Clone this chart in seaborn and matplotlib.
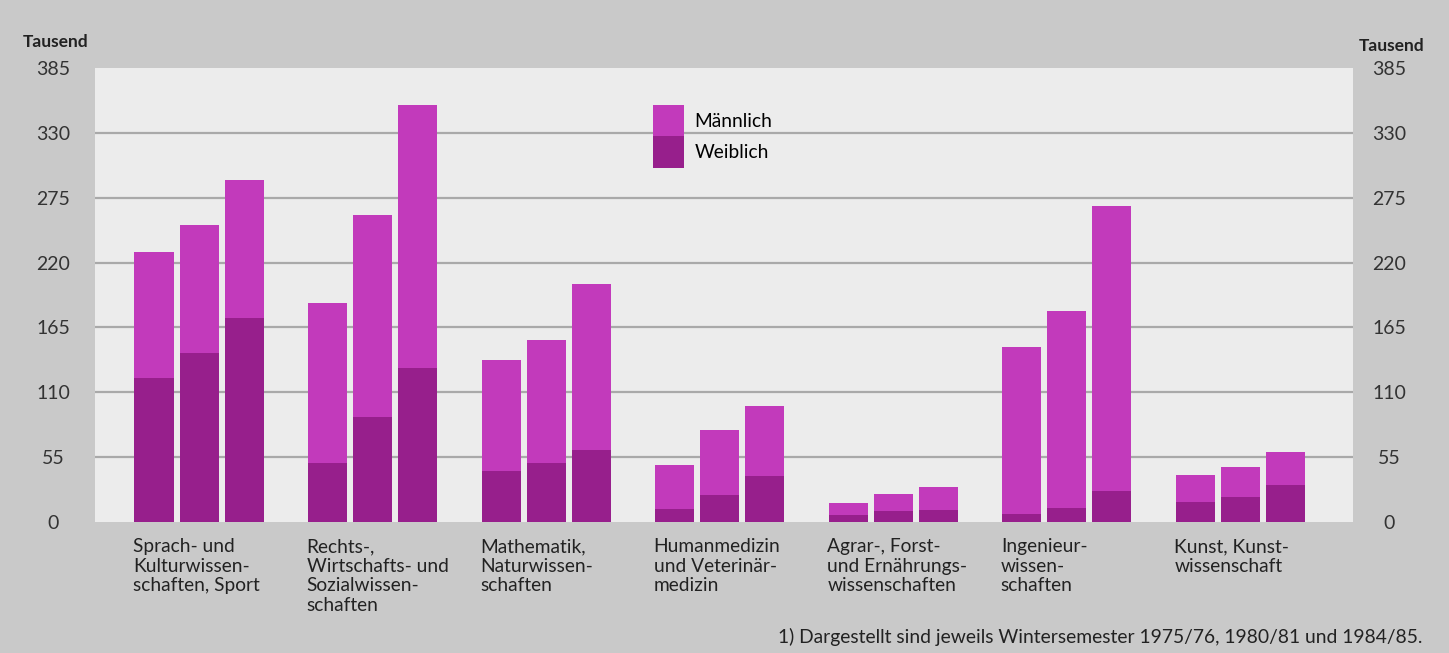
import pandas as pd
import matplotlib.pyplot as plt
import seaborn as sns
from matplotlib.patches import Patch

# Studierende nach Fächergruppen, Tausend
categories = ['Sprach- und\nKulturwissen-\nschaften, Sport',
              'Rechts-,\nWirtschafts- und\nSozialwissen-\nschaften',
              'Mathematik,\nNaturwissen-\nschaften',
              'Humanmedizin\nund Veterinär-\nmedizin',
              'Agrar-, Forst-\nund Ernährungs-\nwissenschaften',
              'Ingenieur-\nwissen-\nschaften',
              'Kunst, Kunst-\nwissenschaft']
years = ['1975/76', '1980/81', '1984/85']
total_1975 = [229, 186, 137, 48, 16, 148, 40]
total_1980 = [252, 260, 154, 78, 24, 179, 47]
total_1984 = [290, 354, 202, 98, 30, 268, 59]
weibl_1975 = [122, 50, 43, 11, 6, 7, 17]
weibl_1980 = [143, 89, 50, 23, 9, 12, 21]
weibl_1984 = [173, 131, 61, 39, 10, 26, 31]
yticks = [0, 55, 110, 165, 220, 275, 330, 385]

c_m = '#c23abb'
c_w = '#971f8c'
bg_out = '#c9c9c9'
bg_in = '#ececec'

rows = []
for yr, tot, wei in zip(years, [total_1975, total_1980, total_1984],
                        [weibl_1975, weibl_1980, weibl_1984]):
    for c, t, w in zip(categories, tot, wei):
        rows.append({'Fach': c, 'Jahr': yr, 'Gesamt': t, 'Weiblich': w})
df = pd.DataFrame(rows)

plt.rcParams['font.family'] = ['Lato', 'DejaVu Sans']

fig = plt.figure(figsize=(14.49, 6.53), dpi=100)
fig.patch.set_facecolor(bg_out)
ax = fig.add_axes([95 / 1449, (653 - 522) / 653, (1353 - 95) / 1449, (522 - 68) / 653])
ax.set_facecolor(bg_in)

for t in yticks[1:-1]:
    ax.axhline(t, color='#a9a9a9', lw=1.6, zorder=0)

sns.barplot(data=df, x='Fach', y='Gesamt', hue='Jahr', palette=[c_m] * 3,
            width=0.78, gap=0.135, saturation=1, legend=False, ax=ax, zorder=2)
sns.barplot(data=df, x='Fach', y='Weiblich', hue='Jahr', palette=[c_w] * 3,
            width=0.78, gap=0.135, saturation=1, legend=False, ax=ax, zorder=3)

ax.set_xlim(-0.6, 6.65)
ax.set_ylim(0, 385)
ax.set_yticks(yticks)
ax.set_xticks([])
ax.set_xlabel('')
ax.set_ylabel('')
for s in ax.spines.values():
    s.set_visible(False)
ax.tick_params(axis='y', length=0, pad=30, labelsize=14, labelcolor='#333333')
for lab in ax.get_yticklabels():
    lab.set_horizontalalignment('center')

# rechte Skala
ax2 = ax.twinx()
ax2.set_ylim(0, 385)
ax2.set_yticks(yticks)
for s in ax2.spines.values():
    s.set_visible(False)
ax2.tick_params(axis='y', length=0, pad=26, labelsize=14, labelcolor='#333333')
for lab in ax2.get_yticklabels():
    lab.set_horizontalalignment('center')

trans = ax.get_xaxis_transform()
for i, c in enumerate(categories):
    ax.text(i - 0.38, -0.035, c, transform=trans, ha='left', va='top',
            fontsize=13.8, color='#222222', linespacing=1.2)

fig.text(56 / 1449, 1 - 42 / 653, 'Tausend', ha='center', va='center',
         fontsize=12.5, fontweight='bold', color='#222222')
fig.text(1392 / 1449, 1 - 46 / 653, 'Tausend', ha='center', va='center',
         fontsize=12.5, fontweight='bold', color='#222222')
fig.text(1422 / 1449, 1 - 637 / 653,
         '1) Dargestellt sind jeweils Wintersemester 1975/76, 1980/81 und 1984/85.',
         ha='right', va='center', fontsize=13.9, color='#222222')

handles = [Patch(facecolor=c_m, edgecolor='none'), Patch(facecolor=c_w, edgecolor='none')]
ax2.legend(handles, ['Männlich', 'Weiblich'], loc='upper left',
           bbox_to_anchor=((653 - 95) / 1258, (522 - 105) / 454),
           frameon=False, fontsize=13.8, handlelength=1.61, handleheight=2.15,
           labelspacing=0, handletextpad=0.55, borderpad=0, borderaxespad=0)

fig.savefig('out.png', dpi=100, facecolor=fig.get_facecolor())
